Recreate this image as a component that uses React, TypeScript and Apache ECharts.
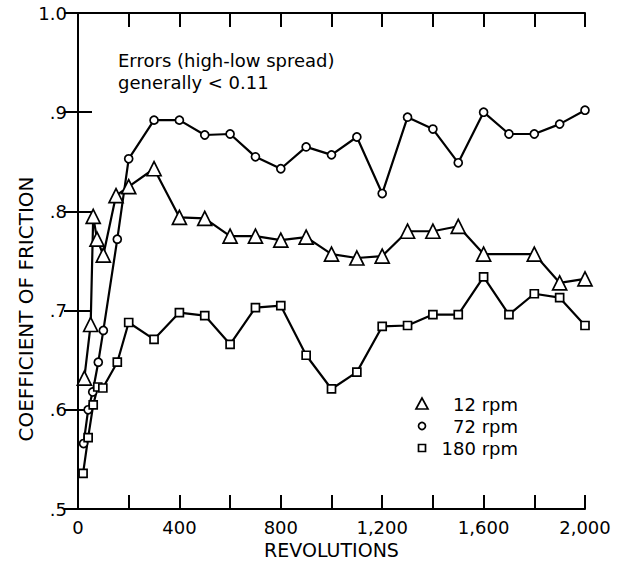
import React, { useEffect, useRef } from "react";
import * as echarts from "echarts";

const rpm12: [number, number][] = [
  [25, 0.632], [50, 0.686], [60, 0.795], [75, 0.772], [100, 0.756], [150, 0.816],
  [200, 0.825], [300, 0.843], [400, 0.794], [500, 0.793], [600, 0.775], [700, 0.775],
  [800, 0.771], [900, 0.774], [1000, 0.757], [1100, 0.753], [1200, 0.755], [1300, 0.78],
  [1400, 0.78], [1500, 0.785], [1600, 0.757], [1800, 0.757], [1900, 0.728], [2000, 0.732],
];

const rpm72: [number, number][] = [
  [22, 0.566], [40, 0.6], [58, 0.618], [80, 0.648], [100, 0.68], [155, 0.772],
  [200, 0.853], [300, 0.892], [400, 0.892], [500, 0.877], [600, 0.878], [700, 0.855],
  [800, 0.843], [900, 0.865], [1000, 0.857], [1100, 0.875], [1200, 0.818], [1300, 0.895],
  [1400, 0.883], [1500, 0.849], [1600, 0.9], [1700, 0.878], [1800, 0.878], [1900, 0.888],
  [2000, 0.902],
];

const rpm180: [number, number][] = [
  [20, 0.536], [40, 0.572], [60, 0.605], [78, 0.623], [98, 0.622], [155, 0.648],
  [200, 0.688], [300, 0.671], [400, 0.698], [500, 0.695], [600, 0.666], [700, 0.703],
  [800, 0.705], [900, 0.655], [1000, 0.621], [1100, 0.638], [1200, 0.684], [1300, 0.685],
  [1400, 0.696], [1500, 0.696], [1600, 0.734], [1700, 0.696], [1800, 0.717], [1900, 0.713],
  [2000, 0.685],
];

const seriesNames = ["12 rpm", "72 rpm", "180 rpm"];
const annotationLines = ["Errors (high-low spread)", "generally < 0.11"];
const xTitle = "REVOLUTIONS";
const yTitle = "COEFFICIENT OF FRICTION";

const FONT = "DejaVu Sans";

export default function App() {
  const ref = useRef<HTMLDivElement>(null);
  useEffect(() => {
    if (!ref.current) return;
    const chart = echarts.init(ref.current, null, { renderer: "svg" });
    const axisLine = { show: true, lineStyle: { color: "#000", width: 2 } };
    const axisTick = { show: true, inside: true, length: 14, lineStyle: { color: "#000", width: 2 } };
    const markerStyle = { color: "#fff", borderColor: "#000", borderWidth: 1.7 };
    const mkSeries = (name: string, data: [number, number][], symbol: string, size: number) => ({
      type: "line",
      name,
      data,
      symbol,
      symbolSize: size,
      showAllSymbol: true,
      lineStyle: { color: "#000", width: 2.2 },
      itemStyle: markerStyle,
      emphasis: { disabled: true },
    });
    const legendX = 422;
    const legendY = [404, 426, 448];
    chart.setOption({
      animation: false,
      grid: { left: 78, right: 44, top: 13, bottom: 61 },
      xAxis: [
        {
          type: "value",
          min: 0,
          max: 2000,
          interval: 200,
          axisLine,
          axisTick,
          splitLine: { show: false },
          axisLabel: {
            color: "#000",
            fontFamily: FONT,
            fontSize: 18,
            margin: 9,
            formatter: (v: number) => (v % 400 === 0 ? v.toLocaleString("en-US") : ""),
          },
          name: xTitle,
          nameLocation: "middle",
          nameGap: 31,
          nameTextStyle: { color: "#000", fontFamily: FONT, fontSize: 19 },
        },
        {
          type: "value",
          position: "top",
          min: 0,
          max: 2000,
          interval: 200,
          axisLine,
          axisTick,
          splitLine: { show: false },
          axisLabel: { show: false },
        },
      ],
      yAxis: [
        {
          type: "value",
          min: 0.5,
          max: 1.0,
          interval: 0.1,
          axisLine,
          axisTick,
          splitLine: { show: false },
          axisLabel: {
            color: "#000",
            fontFamily: FONT,
            fontSize: 18,
            margin: 11,
            formatter: (v: number) => {
              const r = Math.round(v * 10);
              return r === 10 ? "1.0" : "." + r;
            },
          },
        },
        {
          type: "value",
          position: "right",
          min: 0.5,
          max: 1.0,
          interval: 0.1,
          axisLine,
          axisTick,
          splitLine: { show: false },
          axisLabel: { show: false },
        },
      ],
      series: [
        mkSeries(seriesNames[0], rpm12, "triangle", 14),
        mkSeries(seriesNames[1], rpm72, "circle", 8),
        mkSeries(seriesNames[2], rpm180, "rect", 8),
      ],
      graphic: [
        {
          type: "text",
          x: 26,
          y: 309,
          rotation: Math.PI / 2,
          style: {
            text: yTitle,
            fill: "#000",
            font: `20px "${FONT}"`,
            textAlign: "center",
            textVerticalAlign: "middle",
          },
        },
        {
          type: "text",
          x: 118,
          y: 60,
          style: {
            text: annotationLines[0],
            fill: "#000",
            font: `18px "${FONT}"`,
            textAlign: "left",
            textVerticalAlign: "middle",
          },
        },
        {
          type: "text",
          x: 118,
          y: 82,
          style: {
            text: annotationLines[1],
            fill: "#000",
            font: `18px "${FONT}"`,
            textAlign: "left",
            textVerticalAlign: "middle",
          },
        },
        {
          type: "polygon",
          shape: {
            points: [
              [legendX, legendY[0] - 6],
              [legendX - 6, legendY[0] + 5],
              [legendX + 6, legendY[0] + 5],
            ],
          },
          style: { fill: "#fff", stroke: "#000", lineWidth: 1.7 },
        },
        {
          type: "circle",
          shape: { cx: legendX, cy: legendY[1], r: 3.5 },
          style: { fill: "#fff", stroke: "#000", lineWidth: 1.7 },
        },
        {
          type: "rect",
          shape: { x: legendX - 3.5, y: legendY[2] - 3.5, width: 7, height: 7 },
          style: { fill: "#fff", stroke: "#000", lineWidth: 1.7 },
        },
        ...seriesNames.map((n, i) => ({
          type: "text",
          x: 518,
          y: legendY[i],
          style: {
            text: n,
            fill: "#000",
            font: `18px "${FONT}"`,
            textAlign: "right",
            textVerticalAlign: "middle",
          },
        })),
      ],
    });
    return () => chart.dispose();
  }, []);
  return (
    <div
      ref={ref}
      style={{ position: "absolute", left: 0, top: 0, width: 629, height: 570, background: "#fff" }}
    />
  );
}
